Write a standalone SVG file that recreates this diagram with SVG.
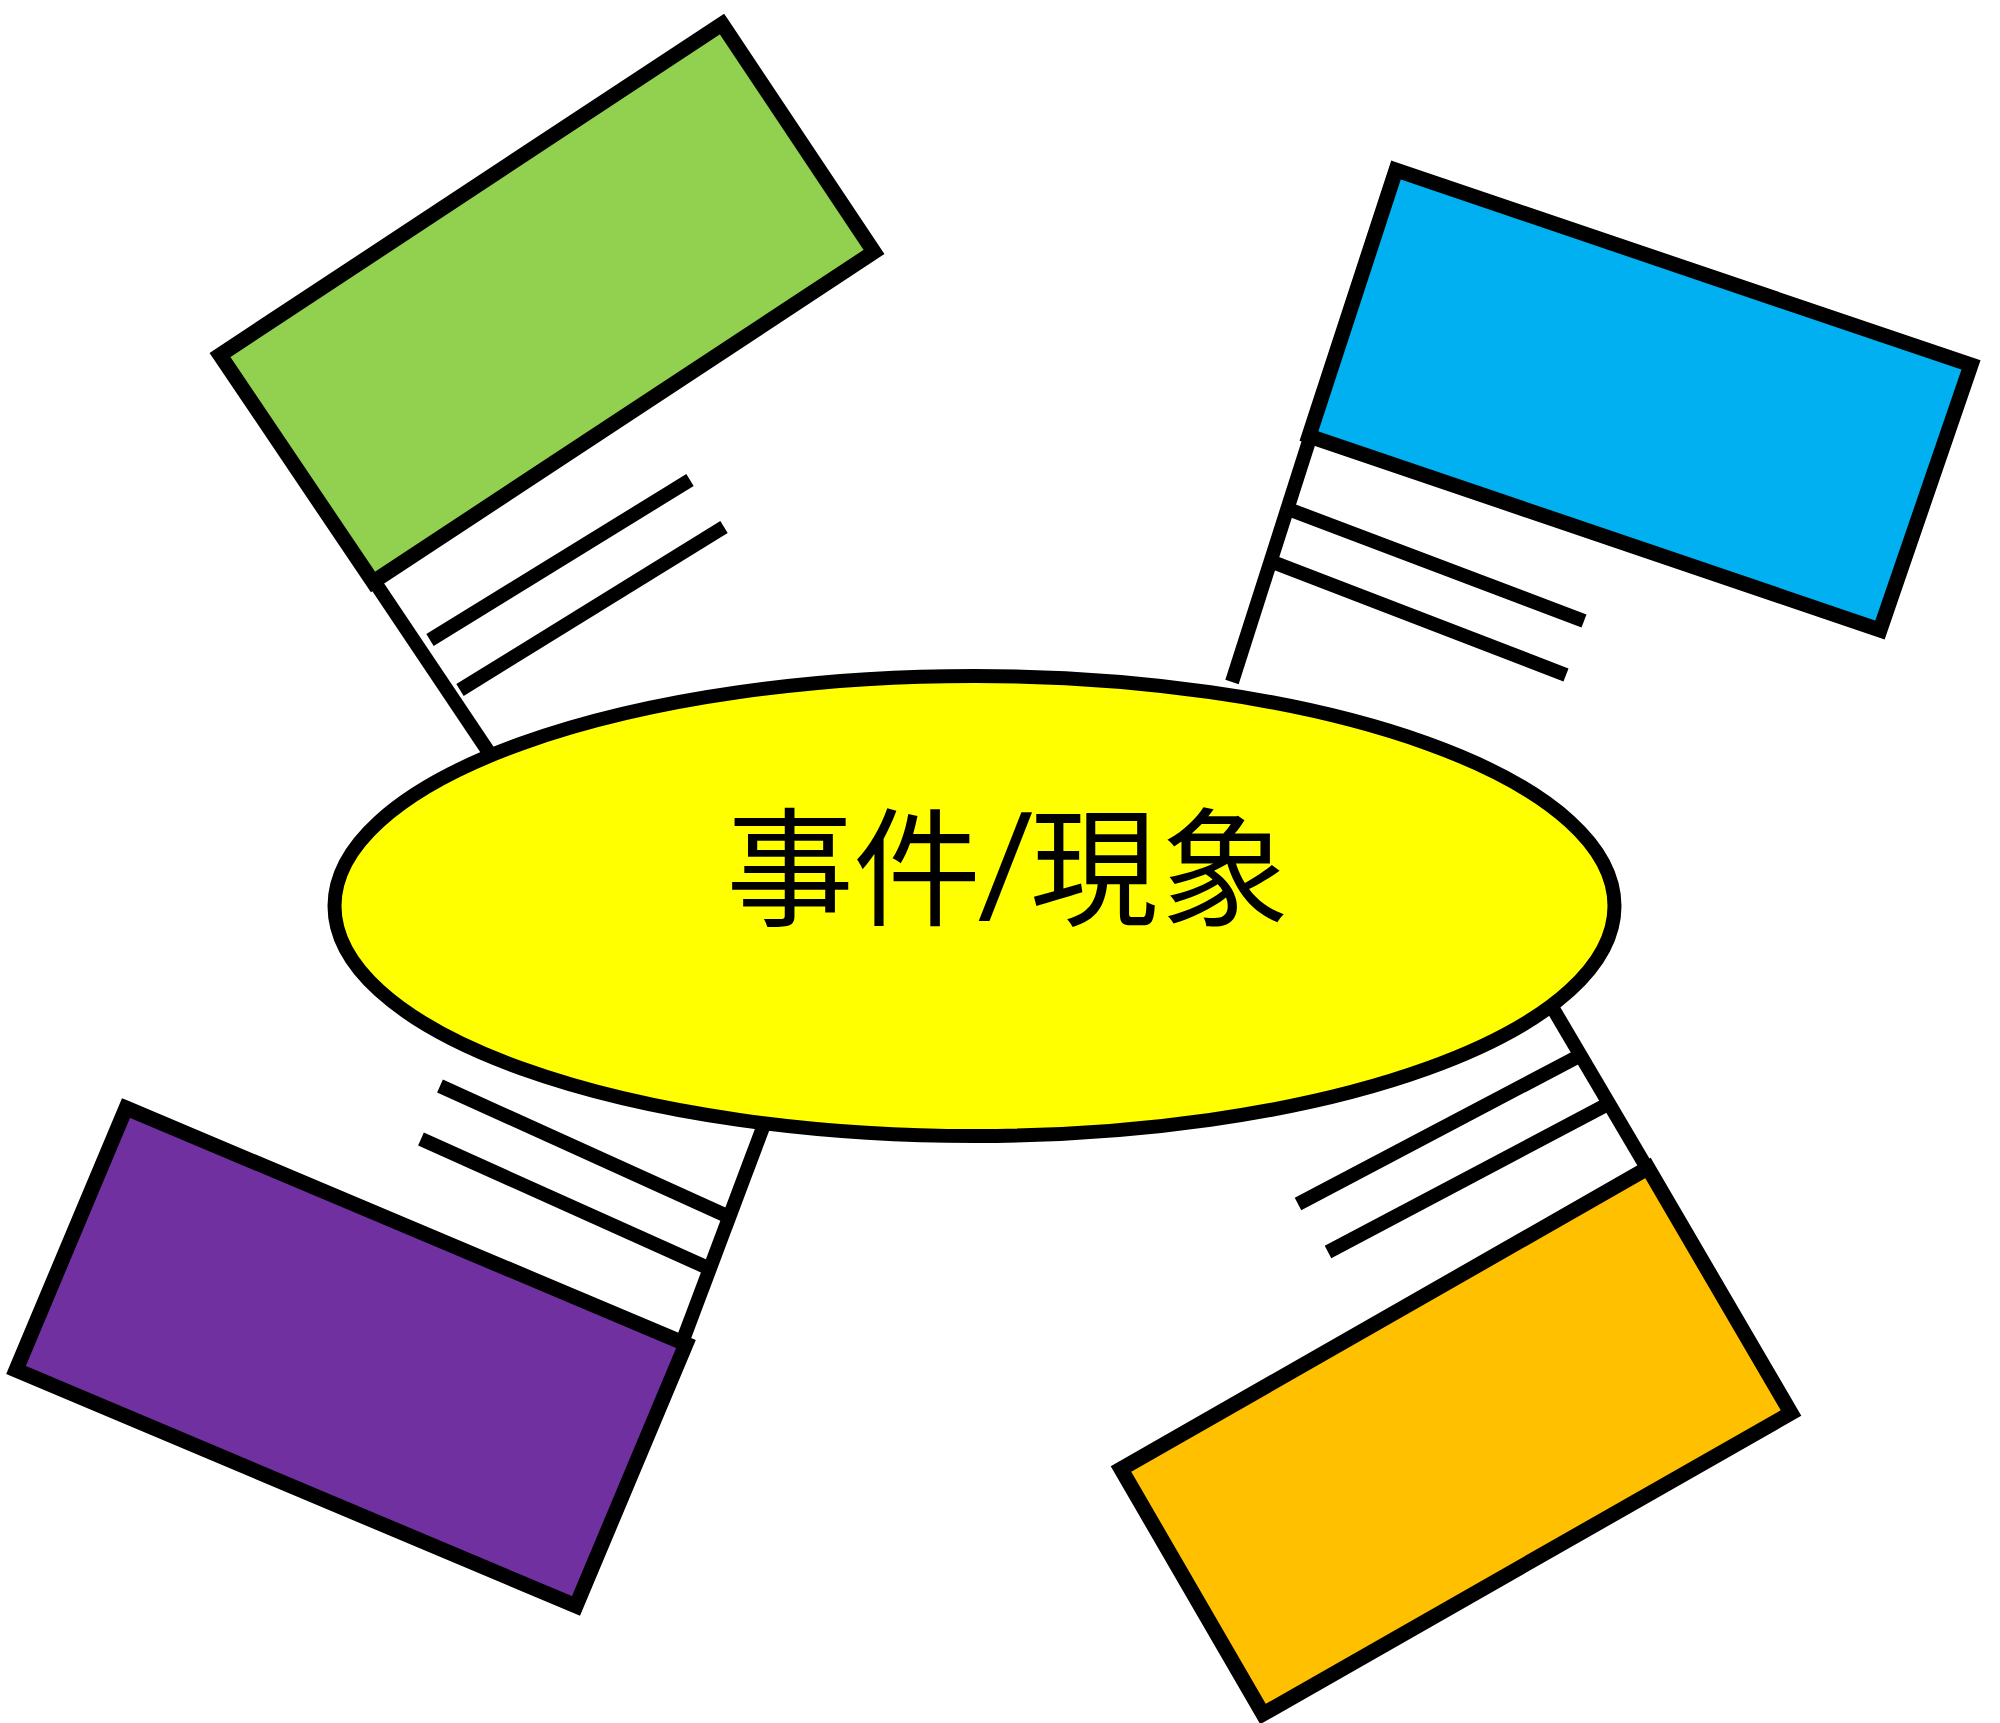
<svg xmlns="http://www.w3.org/2000/svg" width="2000" height="1723" viewBox="0 0 2000 1723">
<style>
.pole{stroke:#000;stroke-width:14;fill:none;stroke-linecap:butt}
.stripe{stroke:#000;stroke-width:14;fill:none;stroke-linecap:butt}
.flag{stroke:#000;stroke-width:15;stroke-linejoin:miter}
.hub{fill:#FFFF00;stroke:#000;stroke-width:14}
.label{font-family:"Noto Sans CJK JP","Noto Sans CJK SC",sans-serif;font-size:128px;fill:#000}
.slash{font-size:110px;font-weight:700}
</style>
<rect width="2000" height="1723" fill="#fff"/>
<g id="connectors">
<line class="pole" x1="376" y1="584" x2="494" y2="760"/>
<line class="pole" x1="1310" y1="438" x2="1232" y2="682"/>
<line class="pole" x1="683" y1="1340" x2="768" y2="1114"/>
<line class="pole" x1="1644" y1="1163" x2="1545" y2="995"/>
</g>
<g id="flag-green">
<line class="stripe" x1="430" y1="640" x2="690" y2="480"/>
<line class="stripe" x1="460" y1="690" x2="724" y2="527"/>
<polygon class="flag" fill="#92D050" points="722,24 874,252 373,582 220,355"/>
</g>
<g id="flag-blue">
<line class="stripe" x1="1288" y1="509" x2="1584" y2="621"/>
<line class="stripe" x1="1270" y1="561" x2="1566" y2="675"/>
<polygon class="flag" fill="#00B0F0" points="1396,170 1971,365 1880,630 1309,436"/>
</g>
<g id="flag-purple">
<line class="stripe" x1="440" y1="1086" x2="727" y2="1216"/>
<line class="stripe" x1="421" y1="1139" x2="708" y2="1268"/>
<polygon class="flag" fill="#7030A0" points="126,1108 686,1344 576,1606 16,1370"/>
</g>
<g id="flag-orange">
<line class="stripe" x1="1298" y1="1204" x2="1581" y2="1055"/>
<line class="stripe" x1="1328" y1="1252" x2="1608" y2="1104"/>
<polygon class="flag" fill="#FFC000" points="1648,1168 1791,1413 1263,1714 1121,1469"/>
</g>
<g id="event">
<ellipse class="hub" cx="974.5" cy="906" rx="640" ry="230"/>
<text class="label" y="916"><tspan x="726">事</tspan><tspan x="853">件</tspan><tspan x="1030">現</tspan><tspan x="1161">象</tspan></text>
<text class="label slash" transform="translate(980,901) skewX(-8)" x="0" y="0">/</text>
</g>
</svg>
